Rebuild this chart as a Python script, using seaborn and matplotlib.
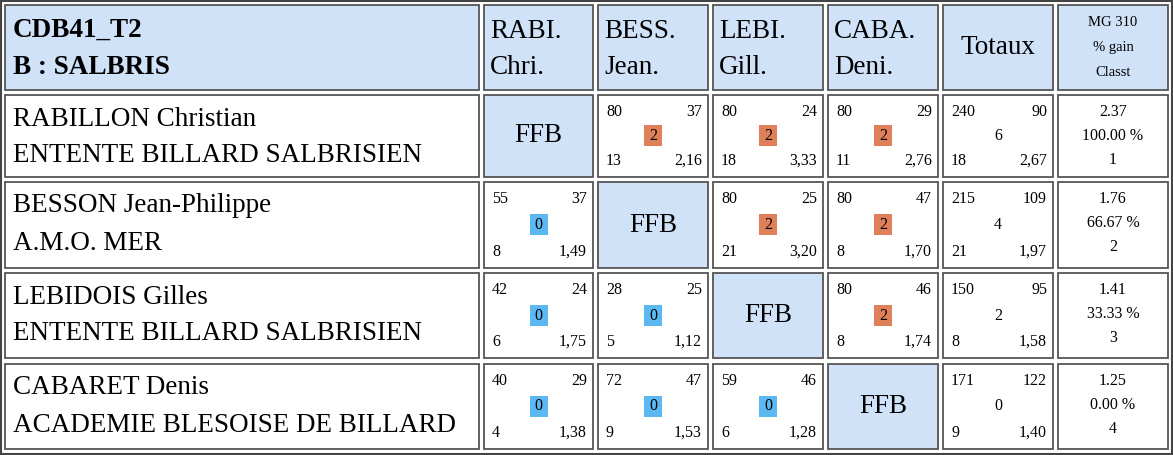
import matplotlib
matplotlib.use("Agg")
import matplotlib.pyplot as plt
import seaborn as sns
from matplotlib.patches import Rectangle

sns.set_theme(style="white")
plt.rcParams["text.color"] = "black"
FONT = "Liberation Serif"
BIG = 19.5
SMALL = 11.5

title_lines = ["CDB41_T2", "B : SALBRIS"]
col_headers = [["RABI.", "Chri."], ["BESS.", "Jean."], ["LEBI.", "Gill."], ["CABA.", "Deni."], ["Totaux"], ["MG 310", "% gain", "Classt"]]
players = ["RABILLON Christian", "BESSON Jean-Philippe", "LEBIDOIS Gilles", "CABARET Denis"]
clubs = ["ENTENTE BILLARD SALBRISIEN", "A.M.O. MER", "ENTENTE BILLARD SALBRISIEN", "ACADEMIE BLESOISE DE BILLARD"]
# game cells: (points, reprises, match pts, serie, moyenne); None = FFB (self)
points = [[None, 80, 80, 80], [55, None, 80, 80], [42, 28, None, 80], [40, 72, 59, None]]
reprises = [[None, 37, 24, 29], [37, None, 25, 47], [24, 25, None, 46], [29, 47, 46, None]]
match_pts = [[None, 2, 2, 2], [0, None, 2, 2], [0, 0, None, 2], [0, 0, 0, None]]
series = [[None, 13, 18, 11], [8, None, 21, 8], [6, 5, None, 8], [4, 9, 6, None]]
moyennes = [[None, "2,16", "3,33", "2,76"], ["1,49", None, "3,20", "1,70"], ["1,75", "1,12", None, "1,74"], ["1,38", "1,53", "1,28", None]]
tot_points = [240, 215, 150, 171]
tot_reprises = [90, 109, 95, 122]
tot_match = [6, 4, 2, 0]
tot_serie = [18, 21, 8, 9]
tot_moy = ["2,67", "1,97", "1,58", "1,40"]
mg = ["2.37", "1.76", "1.41", "1.25"]
gain = ["100.00 %", "66.67 %", "33.33 %", "0.00 %"]
classt = [1, 2, 3, 4]

BLUE = "#cfe2f8"
ORANGE = "#e0805a"
LBLUE = "#5bb8f3"
EDGE = "#555555"

col_x = [(5, 479), (484, 593), (598, 708), (713, 823), (828, 938), (943, 1053), (1058, 1168)]
row_y = [(5, 90), (95, 177), (182, 268), (273, 358), (364, 449)]

fig = plt.figure(figsize=(11.73, 4.55), dpi=100)
ax = fig.add_axes([0, 0, 1, 1])
ax.set_xlim(0, 1173)
ax.set_ylim(455, 0)
ax.axis("off")
ax.add_patch(Rectangle((1, 1), 1171, 453, fill=False, ec="#444444", lw=1.5))

def cell(c, r, color="white"):
    x0, x1 = col_x[c]; y0, y1 = row_y[r]
    ax.add_patch(Rectangle((x0, y0), x1 - x0, y1 - y0, fc=color, ec=EDGE, lw=1.3))
    return x0, x1, y0, y1

def txt(x, y, s, size, ha="left", **kw):
    ax.text(x, y, s, fontsize=size, family=FONT, va="center", ha=ha, color="black", **kw)

# header
x0, x1, y0, y1 = cell(0, 0, BLUE)
txt(x0 + 8, y0 + 25, title_lines[0], BIG, fontweight="bold")
txt(x0 + 8, y0 + 62, title_lines[1], BIG, fontweight="bold")
for j, h in enumerate(col_headers):
    x0, x1, y0, y1 = cell(j + 1, 0, BLUE)
    if len(h) == 2:
        txt(x0 + 6, y0 + 26, h[0], BIG)
        txt(x0 + 6, y0 + 62, h[1], BIG)
    elif len(h) == 1:
        txt((x0 + x1) / 2, (y0 + y1) / 2, h[0], BIG, ha="center")
    else:
        for k, t in enumerate(h):
            txt((x0 + x1) / 2, y0 + 17 + k * 25, t, 10.5, ha="center")

for i in range(4):
    r = i + 1
    x0, x1, y0, y1 = cell(0, r)
    txt(x0 + 8, y0 + 24, players[i], BIG)
    txt(x0 + 8, y0 + 61, clubs[i], BIG)
    for j in range(4):
        if points[i][j] is None:
            x0, x1, y0, y1 = cell(j + 1, r, BLUE)
            txt((x0 + x1) / 2, (y0 + y1) / 2, "FFB", BIG, ha="center")
            continue
        x0, x1, y0, y1 = cell(j + 1, r)
        txt(x0 + 8, y0 + 17, str(points[i][j]), SMALL)
        txt(x1 - 6, y0 + 17, str(reprises[i][j]), SMALL, ha="right")
        txt(x0 + 8, y1 - 16, str(series[i][j]), SMALL)
        txt(x1 - 6, y1 - 16, moyennes[i][j], SMALL, ha="right")
        cx, cy = (x0 + x1) / 2, (y0 + y1) / 2
        ax.add_patch(Rectangle((cx - 9, cy - 11), 18, 21, fc=ORANGE if match_pts[i][j] else LBLUE, ec="none"))
        txt(cx, cy, str(match_pts[i][j]), SMALL, ha="center")
    x0, x1, y0, y1 = cell(5, r)
    txt(x0 + 8, y0 + 17, str(tot_points[i]), SMALL)
    txt(x1 - 6, y0 + 17, str(tot_reprises[i]), SMALL, ha="right")
    txt((x0 + x1) / 2, (y0 + y1) / 2, str(tot_match[i]), SMALL, ha="center")
    txt(x0 + 8, y1 - 16, str(tot_serie[i]), SMALL)
    txt(x1 - 6, y1 - 16, tot_moy[i], SMALL, ha="right")
    x0, x1, y0, y1 = cell(6, r)
    cx = (x0 + x1) / 2
    for k, t in enumerate([mg[i], gain[i], str(classt[i])]):
        txt(cx, y0 + 17 + k * 24, t, SMALL, ha="center")

fig.savefig("out.png", dpi=100)
